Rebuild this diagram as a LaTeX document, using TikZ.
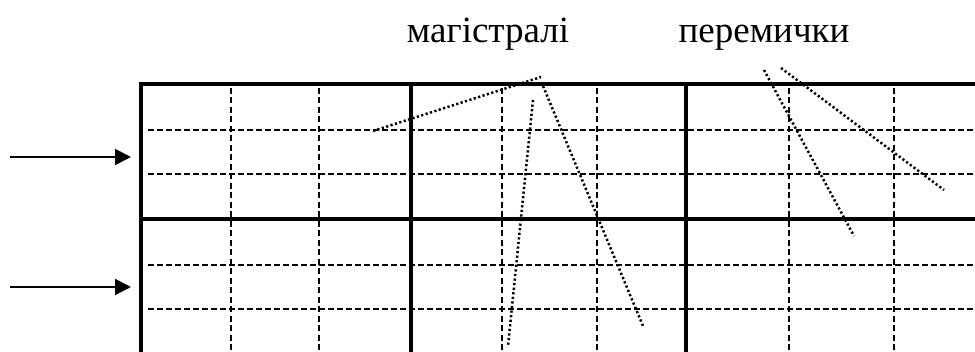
\documentclass[tikz,border=0pt]{standalone}
\usepackage{fontspec}
\setmainfont{Liberation Serif}
\usetikzlibrary{arrows.meta}
\begin{document}
\begin{tikzpicture}[x=1pt,y=-1pt,
  thickline/.style={line width=4.3pt},
  hdash/.style={line width=1.9pt,dash pattern=on 6pt off 3pt},
  vdash/.style={line width=2.3pt,dash pattern=on 6pt off 3.5pt},
  pointer/.style={line width=2.5pt,dash pattern=on 2.2pt off 2.4pt},
  inarrow/.style={line width=1.9pt,-{Triangle[length=16pt,width=16pt]}},
  label/.style={font=\fontsize{37}{40}\selectfont,anchor=base,inner sep=0pt}]
\useasboundingbox (0,0) rectangle (975,352);
% grid coordinates
\coordinate (tl) at (141,84);
\coordinate (bl) at (141,354);
\coordinate (tr) at (977,84);
\coordinate (ml) at (141,219);
\coordinate (mr) at (977,219);
% thick frame
\draw[thickline] (bl) -- (tl) -- (tr);
\draw[thickline] (ml) -- (mr);
\foreach \x/\n in {411/a,686/b}{
  \coordinate (t\n) at (\x,84);
  \coordinate (b\n) at (\x,354);
  \draw[thickline] (t\n) -- (b\n);
}
% dashed horizontals
\foreach \y/\n in {130/1,174/2,265/3,309/4}{
  \coordinate (hl\n) at (148,\y);
  \coordinate (hr\n) at (977,\y);
  \draw[hdash] (hl\n) -- (hr\n);
}
% dashed verticals
\foreach \x/\n in {231/1,319/2,502/3,597/4,789/5,894/6}{
  \coordinate (vt\n) at (\x,88);
  \coordinate (vb\n) at (\x,354);
  \draw[vdash] (vt\n) -- (vb\n);
}
% input arrows
\coordinate (in1) at (10,157);
\coordinate (in2) at (10,287);
\coordinate (tip1) at (131,157);
\coordinate (tip2) at (131,287);
\draw[inarrow] (in1) -- (tip1);
\draw[inarrow] (in2) -- (tip2);
% labels
\node[label] (mag) at (488,43) {магістралі};
\node[label] (per) at (764,43) {перемички};
% pointer lines
\coordinate (m0) at (373,131);
\coordinate (m1) at (541,77);
\coordinate (m2a) at (543,86);
\coordinate (m2) at (643,326);
\coordinate (m3a) at (533,100);
\coordinate (m3) at (508,346);
\draw[pointer] (m0) -- (m1);
\draw[pointer] (m2a) -- (m2);
\draw[pointer] (m3a) -- (m3);
\coordinate (p1a) at (764,70);
\coordinate (p1) at (854,236);
\coordinate (p2a) at (781,68);
\coordinate (p2) at (944,190);
\draw[pointer] (p1a) -- (p1);
\draw[pointer] (p2a) -- (p2);
\end{tikzpicture}
\end{document}
